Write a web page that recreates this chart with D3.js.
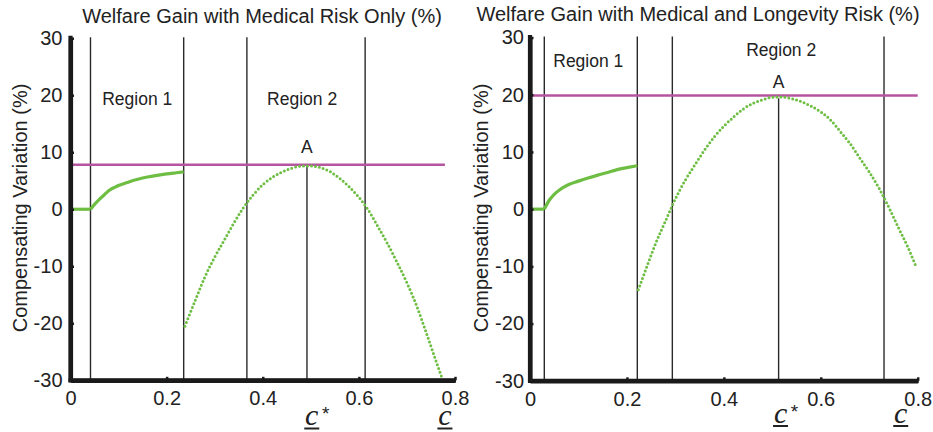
<!DOCTYPE html>
<html>
<head>
<meta charset="utf-8">
<script src="https://cdn.jsdelivr.net/npm/d3@7/dist/d3.min.js"></script>
<style>
  html, body { margin: 0; padding: 0; background: #fff; }
  svg { display: block; }
  text { font-family: "Liberation Sans", Arial, Helvetica, sans-serif; fill: #222; }
</style>
</head>
<body>
<svg id="chart" width="933" height="432"></svg>
<script>
// ---------------- DATA ----------------
const xTicks = [0, 0.2, 0.4, 0.6, 0.8];
const xTickLabels = ["0", "0.2", "0.4", "0.6", "0.8"];
const yTicks = [-30, -20, -10, 0, 10, 20, 30];
const yTickLabels = ["-30", "-20", "-10", "0", "10", "20", "30"];
const yLabel = "Compensating Variation (%)";

// Left panel: medical risk only
const leftTitle = "Welfare Gain with Medical Risk Only (%)";
const leftFlatX = [0, 0.0416];
const leftFlatY = [0, 0];
const leftR1X = [0.0416, 0.05, 0.06, 0.07, 0.08, 0.10, 0.12, 0.14, 0.16, 0.18, 0.20, 0.22, 0.2355];
const leftR1Y = [0, 0.85, 1.75, 2.5, 3.3, 4.15, 4.75, 5.25, 5.65, 5.95, 6.2, 6.4, 6.55];
const leftR2X = [0.238, 0.26, 0.28, 0.30, 0.32, 0.34, 0.36, 0.38, 0.40, 0.42, 0.44, 0.46, 0.48, 0.50, 0.52, 0.54, 0.56, 0.58, 0.60, 0.62, 0.64, 0.66, 0.68, 0.70, 0.72, 0.74, 0.76, 0.772];
const leftR2Y = [-20.5, -15.9, -11.8, -8.4, -5.4, -2.4, 0.3, 2.5, 4.3, 5.6, 6.5, 7.2, 7.55, 7.6, 7.3, 6.6, 5.4, 3.9, 2.1, -0.2, -3.1, -6.1, -9.4, -12.9, -16.9, -21.6, -26.5, -29.4];
const leftVLines = [0.0416, 0.2355, 0.367, 0.613];
const leftPeakX = 0.492, leftPeakY = 7.6;
const leftMaxValue = 7.8, leftMaxEnd = 0.779;
const leftRegionLabels = ["Region 1", "Region 2"];
const leftRegionX = [0.066, 0.409];
const leftRegionY = [18.2, 18.2];
const leftCStarX = 0.502, leftCBarX = 0.779;

// Right panel: medical and longevity risk
const rightTitle = "Welfare Gain with Medical and Longevity Risk (%)";
const rightFlatX = [0, 0.0295];
const rightFlatY = [0, 0];
const rightR1X = [0.0295, 0.04, 0.05, 0.06, 0.08, 0.10, 0.12, 0.14, 0.16, 0.18, 0.20, 0.2214];
const rightR1Y = [0, 1.6, 2.6, 3.3, 4.3, 4.9, 5.45, 5.95, 6.4, 6.9, 7.25, 7.6];
const rightR2X = [0.2235, 0.24, 0.26, 0.28, 0.30, 0.32, 0.34, 0.36, 0.38, 0.40, 0.42, 0.44, 0.46, 0.48, 0.50, 0.52, 0.54, 0.56, 0.58, 0.60, 0.62, 0.64, 0.66, 0.68, 0.70, 0.72, 0.74, 0.76, 0.78, 0.796];
const rightR2Y = [-14.1, -10.3, -5.85, -2.0, 1.8, 5.0, 7.7, 10.3, 12.6, 14.5, 16.1, 17.5, 18.5, 19.1, 19.55, 19.6, 19.3, 18.8, 18.0, 17.0, 15.6, 13.6, 11.5, 9.0, 6.5, 3.7, 0.4, -3.2, -6.7, -9.9];
const rightVLines = [0.0295, 0.2214, 0.2937, 0.7305];
const rightPeakX = 0.513, rightPeakY = 19.4;
const rightMaxValue = 19.85, rightMaxEnd = 0.8;
const rightRegionLabels = ["Region 1", "Region 2"];
const rightRegionX = [0.048, 0.446];
const rightRegionY = [24.9, 26.8];
const rightCStarX = 0.517, rightCBarX = 0.765;

// ---------------- DRAWING ----------------
const svg = d3.select("#chart");
const GREEN = "#6fbe44";
const MAGENTA = "#b5559f";
const LINE = "#2a2a2a";

function panel(cfg) {
  const x = d3.scaleLinear().domain([0, 0.8]).range([cfg.x0, cfg.x1]);
  const y = d3.scaleLinear().domain([-30, 30]).range([cfg.yB, cfg.yT]);
  const g = svg.append("g");

  // title
  g.append("text").attr("x", cfg.titleX).attr("y", cfg.titleY)
    .attr("text-anchor", "middle").style("font-size", "20px").text(cfg.title);

  // y label
  g.append("text")
    .attr("transform", `translate(${cfg.ylabX},${cfg.ylabY}) rotate(-90)`)
    .attr("text-anchor", "middle").attr("dominant-baseline", "central")
    .style("font-size", "20px").text(yLabel);

  // vertical region lines
  g.selectAll("line.v").data(cfg.vlines).enter().append("line")
    .attr("x1", d => x(d)).attr("x2", d => x(d))
    .attr("y1", y(30) - 1).attr("y2", y(-30))
    .attr("stroke", LINE).attr("stroke-width", 1.4);

  // peak line (A)
  g.append("line").attr("x1", x(cfg.peakX)).attr("x2", x(cfg.peakX))
    .attr("y1", y(cfg.peakY)).attr("y2", y(-30))
    .attr("stroke", LINE).attr("stroke-width", 1.4);

  // magenta max line
  g.append("line").attr("x1", x(0)).attr("x2", x(cfg.maxEnd))
    .attr("y1", y(cfg.maxValue)).attr("y2", y(cfg.maxValue))
    .attr("stroke", MAGENTA).attr("stroke-width", 2.6);

  const line = d3.line().x(d => x(d[0])).y(d => y(d[1])).curve(d3.curveMonotoneX);

  // flat + region 1 (dense, appears solid)
  g.append("path").datum(d3.zip(cfg.flatX, cfg.flatY)).attr("d", line)
    .attr("fill", "none").attr("stroke", GREEN).attr("stroke-width", 3.2);
  g.append("path").datum(d3.zip(cfg.r1X, cfg.r1Y)).attr("d", line)
    .attr("fill", "none").attr("stroke", GREEN).attr("stroke-width", 3.2);

  // region 2 (dotted)
  g.append("path").datum(d3.zip(cfg.r2X, cfg.r2Y)).attr("d", line)
    .attr("fill", "none").attr("stroke", GREEN).attr("stroke-width", 3)
    .attr("stroke-linecap", "round").attr("stroke-dasharray", "0 4");

  // axes
  const yAxis = d3.axisLeft(y).tickValues(yTicks).tickFormat((d, i) => yTickLabels[i])
    .tickSizeInner(-3.5).tickSizeOuter(0).tickPadding(8);
  const ya = g.append("g").attr("transform", `translate(${x(0)},0)`).call(yAxis);
  const xAxis = d3.axisBottom(x).tickValues(xTicks).tickFormat((d, i) => xTickLabels[i])
    .tickSizeInner(-3.5).tickSizeOuter(0).tickPadding(11);
  const xa = g.append("g").attr("transform", `translate(0,${y(-30)})`).call(xAxis);
  [ya, xa].forEach(a => {
    a.select(".domain").attr("stroke", "#1a1a1a").attr("stroke-width", 4.2);
    a.selectAll(".tick line").attr("stroke", "#1a1a1a").attr("stroke-width", 2.5);
    a.selectAll(".tick text").style("font-size", "20px")
      .style("font-family", '"Liberation Sans", Arial, sans-serif').attr("fill", "#222");
  });
  ya.selectAll(".tick text").attr("dx", cfg.yTickDx);
  // extend axes to corner
  g.append("line").attr("x1", x(0) - 2).attr("x2", x(0.8) + 1)
    .attr("y1", y(-30)).attr("y2", y(-30)).attr("stroke", "#1a1a1a").attr("stroke-width", 4.2);
  g.append("line").attr("x1", x(0)).attr("x2", x(0))
    .attr("y1", y(30) - 2.5).attr("y2", y(-30) + 2).attr("stroke", "#1a1a1a").attr("stroke-width", 4.2);

  // region labels
  g.selectAll("text.reg").data(cfg.regionLabels).enter().append("text")
    .attr("x", (d, i) => x(cfg.regionX[i])).attr("y", (d, i) => y(cfg.regionY[i]))
    .style("font-size", "17.5px").text(d => d);

  // A label
  g.append("text").attr("x", x(cfg.peakX)).attr("y", cfg.aY)
    .attr("text-anchor", "middle").style("font-size", "17.5px").text("A");

  // underlined c labels
  [[cfg.cStarX, true], [cfg.cBarX, false]].forEach(([cx, star]) => {
    const px = x(cx);
    g.append("text").attr("x", px).attr("y", cfg.cY).attr("text-anchor", "middle")
      .style("font-family", '"Liberation Serif", "DejaVu Serif", serif')
      .style("font-style", "italic").style("font-size", "30px").text("c");
    g.append("line").attr("x1", px - 7.5).attr("x2", px + 7.5)
      .attr("y1", cfg.cY + 3.5).attr("y2", cfg.cY + 3.5)
      .attr("stroke", "#222").attr("stroke-width", 2);
    if (star) {
      g.append("text").attr("x", px + 14).attr("y", cfg.cY - 5)
        .attr("text-anchor", "middle").style("font-size", "19px").text("*");
    }
  });
}

panel({
  x0: 70.5, x1: 455, yT: 38.2, yB: 380.3,
  title: leftTitle, titleX: 262, titleY: 23,
  ylabX: 20, ylabY: 208,
  vlines: leftVLines, peakX: leftPeakX, peakY: leftPeakY,
  maxValue: leftMaxValue, maxEnd: leftMaxEnd,
  flatX: leftFlatX, flatY: leftFlatY, r1X: leftR1X, r1Y: leftR1Y, r2X: leftR2X, r2Y: leftR2Y,
  regionLabels: leftRegionLabels, regionX: leftRegionX, regionY: leftRegionY,
  aY: 152.5, cStarX: leftCStarX, cBarX: leftCBarX, cY: 425, yTickDx: 0
});

panel({
  x0: 530, x1: 917.7, yT: 37.5, yB: 380.8,
  title: rightTitle, titleX: 698, titleY: 21,
  ylabX: 481, ylabY: 208,
  vlines: rightVLines, peakX: rightPeakX, peakY: rightPeakY,
  maxValue: rightMaxValue, maxEnd: rightMaxEnd,
  flatX: rightFlatX, flatY: rightFlatY, r1X: rightR1X, r1Y: rightR1Y, r2X: rightR2X, r2Y: rightR2Y,
  regionLabels: rightRegionLabels, regionX: rightRegionX, regionY: rightRegionY,
  aY: 88, cStarX: rightCStarX, cBarX: rightCBarX, cY: 422.5, yTickDx: 2
});
</script>
</body>
</html>
